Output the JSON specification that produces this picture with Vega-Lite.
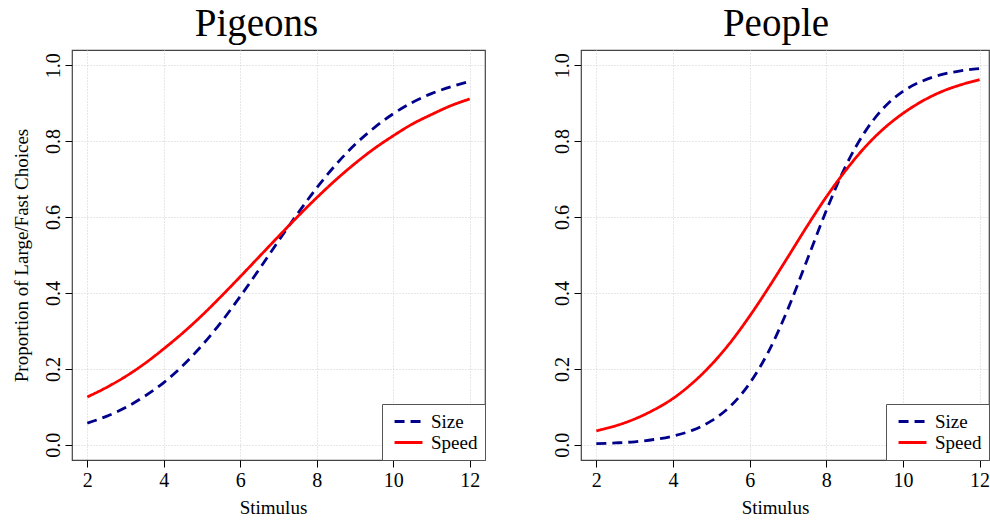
{
  "$schema": "https://vega.github.io/schema/vega-lite/v6.json",
  "padding": {"left": 11, "top": 4, "right": 0, "bottom": 0},
  "background": "#ffffff",
  "config": {
    "font": "Liberation Serif",
    "view": {"stroke": "#444444", "strokeWidth": 1.2},
    "axis": {
      "labelFont": "Liberation Serif", "labelFontSize": 20, "labelColor": "#000000",
      "titleFont": "Liberation Serif", "titleFontSize": 19, "titleFontWeight": "normal", "titleColor": "#000000",
      "tickColor": "#000000", "tickSize": 7, "tickWidth": 1, "domain": false,
      "grid": true, "gridColor": "#cfcfcf", "gridDash": [1, 2], "gridWidth": 1
    },
    "title": {"font": "Liberation Serif", "fontSize": 39, "fontWeight": "normal", "color": "#000000", "baseline": "alphabetic", "offset": 6},
    "legend": {
      "orient": "bottom-right", "offset": 0, "title": null,
      "strokeColor": "#555555", "fillColor": "#ffffff", "padding": 7,
      "labelFont": "Liberation Serif", "labelFontSize": 19, "labelColor": "#000000",
      "symbolType": "M-1.55,0L1.55,0", "symbolSize": 324, "symbolStrokeWidth": 3, "symbolOffset": 9,
      "labelOffset": 12, "rowPadding": 0, "cornerRadius": 0
    }
  },
  "spacing": 96,
  "bounds": "flush",
  "resolve": {"legend": {"color": "independent", "strokeDash": "independent"}},
  "hconcat": [
    {
      "width": 413, "height": 410,
      "title": {"text": "Pigeons", "dx": -22},
      "data": {"values": [
        {"stimulus": 2, "proportion": 0.057, "condition": "Size"},
        {"stimulus": 2.5, "proportion": 0.075, "condition": "Size"},
        {"stimulus": 3, "proportion": 0.098, "condition": "Size"},
        {"stimulus": 3.5, "proportion": 0.128, "condition": "Size"},
        {"stimulus": 4, "proportion": 0.164, "condition": "Size"},
        {"stimulus": 4.5, "proportion": 0.209, "condition": "Size"},
        {"stimulus": 5, "proportion": 0.262, "condition": "Size"},
        {"stimulus": 5.5, "proportion": 0.323, "condition": "Size"},
        {"stimulus": 6, "proportion": 0.391, "condition": "Size"},
        {"stimulus": 6.5, "proportion": 0.463, "condition": "Size"},
        {"stimulus": 7, "proportion": 0.537, "condition": "Size"},
        {"stimulus": 7.5, "proportion": 0.609, "condition": "Size"},
        {"stimulus": 8, "proportion": 0.677, "condition": "Size"},
        {"stimulus": 8.5, "proportion": 0.738, "condition": "Size"},
        {"stimulus": 9, "proportion": 0.791, "condition": "Size"},
        {"stimulus": 9.5, "proportion": 0.835, "condition": "Size"},
        {"stimulus": 10, "proportion": 0.872, "condition": "Size"},
        {"stimulus": 10.5, "proportion": 0.902, "condition": "Size"},
        {"stimulus": 11, "proportion": 0.925, "condition": "Size"},
        {"stimulus": 11.5, "proportion": 0.943, "condition": "Size"},
        {"stimulus": 12, "proportion": 0.957, "condition": "Size"},
        {"stimulus": 2, "proportion": 0.126, "condition": "Speed"},
        {"stimulus": 2.5, "proportion": 0.151, "condition": "Speed"},
        {"stimulus": 3, "proportion": 0.180, "condition": "Speed"},
        {"stimulus": 3.5, "proportion": 0.214, "condition": "Speed"},
        {"stimulus": 4, "proportion": 0.253, "condition": "Speed"},
        {"stimulus": 4.5, "proportion": 0.295, "condition": "Speed"},
        {"stimulus": 5, "proportion": 0.341, "condition": "Speed"},
        {"stimulus": 5.5, "proportion": 0.391, "condition": "Speed"},
        {"stimulus": 6, "proportion": 0.443, "condition": "Speed"},
        {"stimulus": 6.5, "proportion": 0.496, "condition": "Speed"},
        {"stimulus": 7, "proportion": 0.549, "condition": "Speed"},
        {"stimulus": 7.5, "proportion": 0.601, "condition": "Speed"},
        {"stimulus": 8, "proportion": 0.651, "condition": "Speed"},
        {"stimulus": 8.5, "proportion": 0.698, "condition": "Speed"},
        {"stimulus": 9, "proportion": 0.741, "condition": "Speed"},
        {"stimulus": 9.5, "proportion": 0.780, "condition": "Speed"},
        {"stimulus": 10, "proportion": 0.814, "condition": "Speed"},
        {"stimulus": 10.5, "proportion": 0.845, "condition": "Speed"},
        {"stimulus": 11, "proportion": 0.870, "condition": "Speed"},
        {"stimulus": 11.5, "proportion": 0.893, "condition": "Speed"},
        {"stimulus": 12, "proportion": 0.911, "condition": "Speed"}
      ]},
      "mark": {"type": "line", "strokeWidth": 2.8, "interpolate": "monotone", "clip": true},
      "encoding": {
        "x": {"field": "stimulus", "type": "quantitative",
          "scale": {"domain": [1.6, 12.4], "nice": false, "zero": false},
          "axis": {"values": [2, 4, 6, 8, 10, 12], "title": "Stimulus", "labelPadding": 3, "titlePadding": 8, "titleX": 201}},
        "y": {"field": "proportion", "type": "quantitative",
          "scale": {"domain": [-0.04, 1.04], "nice": false, "zero": false},
          "axis": {"values": [0, 0.2, 0.4, 0.6, 0.8, 1], "format": ".1f", "labelAngle": -90, "labelAlign": "center", "labelBaseline": "alphabetic", "labelPadding": 6, "title": "Proportion of Large/Fast Choices", "titlePadding": 12}},
        "color": {"field": "condition", "type": "nominal",
          "scale": {"domain": ["Size", "Speed"], "range": ["#00008B", "#FF0000"]}},
        "strokeDash": {"field": "condition", "type": "nominal",
          "scale": {"domain": ["Size", "Speed"], "range": [[10, 6], [1, 0]]}}
      }
    },
    {
      "width": 408, "height": 410,
      "title": {"text": "People", "dx": -9},
      "data": {"values": [
        {"stimulus": 2, "proportion": 0.003, "condition": "Size"},
        {"stimulus": 2.5, "proportion": 0.005, "condition": "Size"},
        {"stimulus": 3, "proportion": 0.008, "condition": "Size"},
        {"stimulus": 3.5, "proportion": 0.014, "condition": "Size"},
        {"stimulus": 4, "proportion": 0.023, "condition": "Size"},
        {"stimulus": 4.5, "proportion": 0.038, "condition": "Size"},
        {"stimulus": 5, "proportion": 0.063, "condition": "Size"},
        {"stimulus": 5.5, "proportion": 0.102, "condition": "Size"},
        {"stimulus": 6, "proportion": 0.162, "condition": "Size"},
        {"stimulus": 6.5, "proportion": 0.247, "condition": "Size"},
        {"stimulus": 7, "proportion": 0.358, "condition": "Size"},
        {"stimulus": 7.5, "proportion": 0.487, "condition": "Size"},
        {"stimulus": 8, "proportion": 0.617, "condition": "Size"},
        {"stimulus": 8.5, "proportion": 0.733, "condition": "Size"},
        {"stimulus": 9, "proportion": 0.823, "condition": "Size"},
        {"stimulus": 9.5, "proportion": 0.888, "condition": "Size"},
        {"stimulus": 10, "proportion": 0.931, "condition": "Size"},
        {"stimulus": 10.5, "proportion": 0.958, "condition": "Size"},
        {"stimulus": 11, "proportion": 0.975, "condition": "Size"},
        {"stimulus": 11.5, "proportion": 0.985, "condition": "Size"},
        {"stimulus": 12, "proportion": 0.991, "condition": "Size"},
        {"stimulus": 2, "proportion": 0.037, "condition": "Speed"},
        {"stimulus": 2.5, "proportion": 0.050, "condition": "Speed"},
        {"stimulus": 3, "proportion": 0.068, "condition": "Speed"},
        {"stimulus": 3.5, "proportion": 0.092, "condition": "Speed"},
        {"stimulus": 4, "proportion": 0.122, "condition": "Speed"},
        {"stimulus": 4.5, "proportion": 0.162, "condition": "Speed"},
        {"stimulus": 5, "proportion": 0.211, "condition": "Speed"},
        {"stimulus": 5.5, "proportion": 0.270, "condition": "Speed"},
        {"stimulus": 6, "proportion": 0.339, "condition": "Speed"},
        {"stimulus": 6.5, "proportion": 0.415, "condition": "Speed"},
        {"stimulus": 7, "proportion": 0.495, "condition": "Speed"},
        {"stimulus": 7.5, "proportion": 0.576, "condition": "Speed"},
        {"stimulus": 8, "proportion": 0.653, "condition": "Speed"},
        {"stimulus": 8.5, "proportion": 0.722, "condition": "Speed"},
        {"stimulus": 9, "proportion": 0.783, "condition": "Speed"},
        {"stimulus": 9.5, "proportion": 0.833, "condition": "Speed"},
        {"stimulus": 10, "proportion": 0.873, "condition": "Speed"},
        {"stimulus": 10.5, "proportion": 0.905, "condition": "Speed"},
        {"stimulus": 11, "proportion": 0.930, "condition": "Speed"},
        {"stimulus": 11.5, "proportion": 0.948, "condition": "Speed"},
        {"stimulus": 12, "proportion": 0.962, "condition": "Speed"}
      ]},
      "mark": {"type": "line", "strokeWidth": 2.8, "interpolate": "monotone", "clip": true},
      "encoding": {
        "x": {"field": "stimulus", "type": "quantitative",
          "scale": {"domain": [1.6, 12.245], "nice": false, "zero": false},
          "axis": {"values": [2, 4, 6, 8, 10, 12], "title": "Stimulus", "labelPadding": 3, "titlePadding": 8, "titleX": 194}},
        "y": {"field": "proportion", "type": "quantitative",
          "scale": {"domain": [-0.04, 1.04], "nice": false, "zero": false},
          "axis": {"values": [0, 0.2, 0.4, 0.6, 0.8, 1], "format": ".1f", "labelAngle": -90, "labelAlign": "center", "labelBaseline": "alphabetic", "labelPadding": 6, "title": null}},
        "color": {"field": "condition", "type": "nominal",
          "scale": {"domain": ["Size", "Speed"], "range": ["#00008B", "#FF0000"]}},
        "strokeDash": {"field": "condition", "type": "nominal",
          "scale": {"domain": ["Size", "Speed"], "range": [[10, 6], [1, 0]]}}
      }
    }
  ]
}
